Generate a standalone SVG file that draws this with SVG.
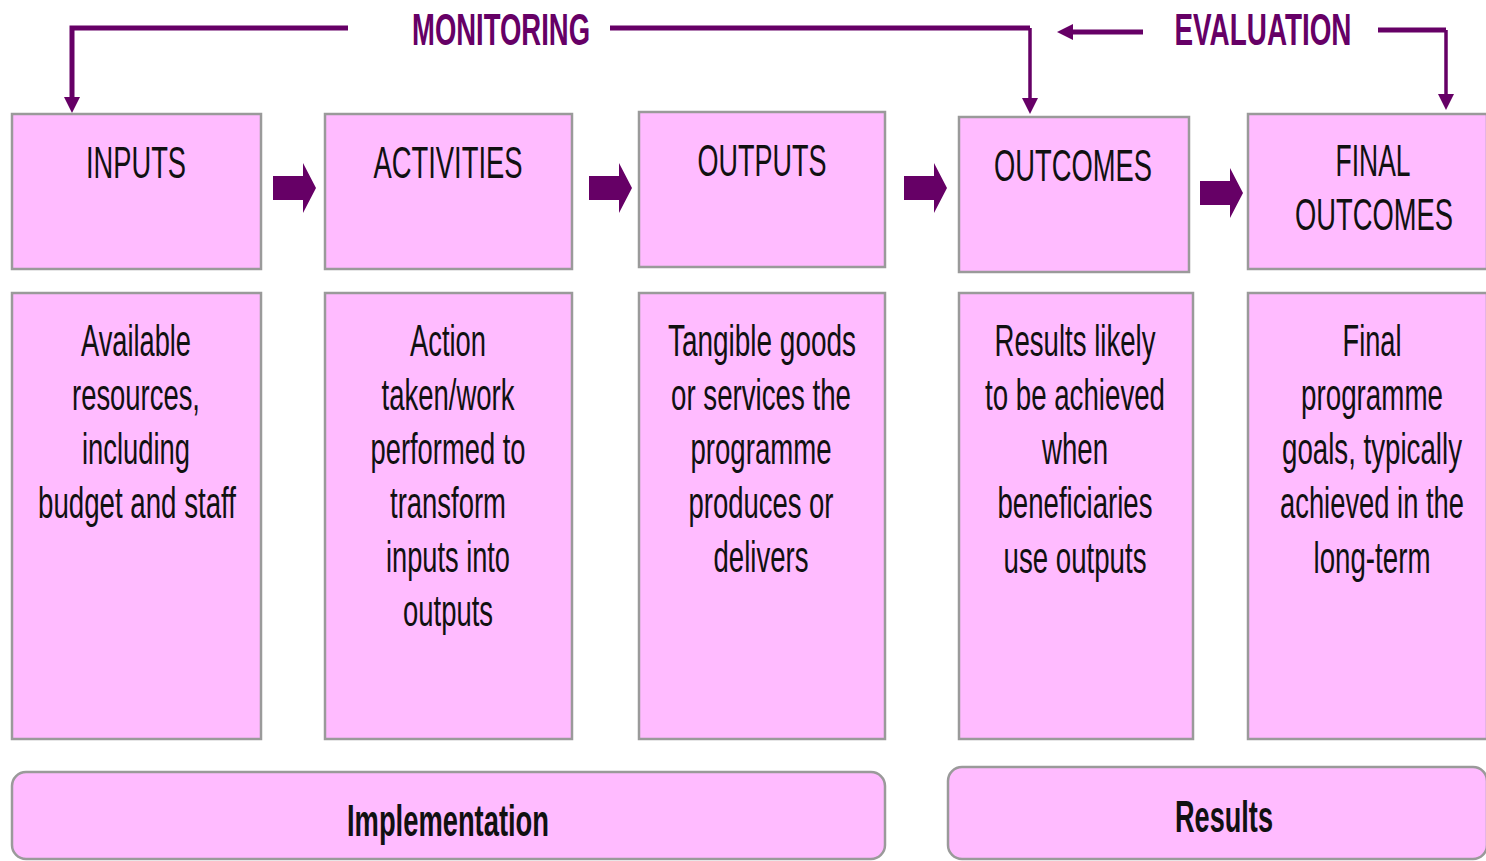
<svg xmlns="http://www.w3.org/2000/svg" xmlns:xlink="http://www.w3.org/1999/xlink" width="1486" height="861" viewBox="0 0 1486 861">
<style>
.box{fill:#ffbbff;stroke:#9a9a9a;stroke-width:2.5}
.t{font-family:"Liberation Sans",Arial,sans-serif;font-size:45px;fill:#111;text-anchor:middle}
.b{font-weight:bold}
.p{fill:#660066}
.ln{fill:none;stroke:#660066;stroke-width:5}
.ln2{fill:none;stroke:#660066;stroke-width:3.5}
</style>
<defs>
<marker id="ah" viewBox="0 0 16 16" refX="4" refY="8" markerWidth="16" markerHeight="16" markerUnits="userSpaceOnUse" orient="auto">
<path d="M0,0 L16,8 L0,16 Z" fill="#660066"/>
</marker>
<path id="blk" d="M0,-12 H30 V-25 L43,0 L30,25 V12 H0 Z" fill="#660066"/>
</defs>
<rect width="1486" height="861" fill="#fff"/>

<g id="connectors">
<path class="ln" d="M348,28 H72 V101" marker-end="url(#ah)"/>
<path class="ln" d="M610,28 H1030"/>
<path class="ln2" d="M1030,28 V102" marker-end="url(#ah)"/>
<path class="ln" d="M1143,32 H1069" marker-end="url(#ah)"/>
<path class="ln" d="M1378,30 H1446"/>
<path class="ln2" d="M1446,30 V98" marker-end="url(#ah)"/>
<use xlink:href="#blk" href="#blk" x="273" y="188"/>
<use xlink:href="#blk" href="#blk" x="589" y="188"/>
<use xlink:href="#blk" href="#blk" x="904" y="188"/>
<use xlink:href="#blk" href="#blk" x="1200" y="193"/>
</g>

<g id="labels">
<text class="t b p" x="501" y="45" textLength="178" lengthAdjust="spacingAndGlyphs">MONITORING</text>
<text class="t b p" x="1263" y="45" textLength="177" lengthAdjust="spacingAndGlyphs">EVALUATION</text>
</g>

<g id="inputs">
<rect class="box" x="12" y="114" width="249" height="155"/>
<text class="t" x="136" y="178" textLength="100" lengthAdjust="spacingAndGlyphs">INPUTS</text>
</g>
<g id="activities">
<rect class="box" x="325" y="114" width="247" height="155"/>
<text class="t" x="448" y="178" textLength="149" lengthAdjust="spacingAndGlyphs">ACTIVITIES</text>
</g>
<g id="outputs">
<rect class="box" x="639" y="112" width="246" height="155"/>
<text class="t" x="762" y="176" textLength="129" lengthAdjust="spacingAndGlyphs">OUTPUTS</text>
</g>
<g id="outcomes">
<rect class="box" x="959" y="117" width="230" height="155"/>
<text class="t" x="1073" y="181" textLength="158" lengthAdjust="spacingAndGlyphs">OUTCOMES</text>
</g>
<g id="final-outcomes">
<rect class="box" x="1248" y="114" width="239" height="155"/>
<text class="t" x="1373" y="176" textLength="75" lengthAdjust="spacingAndGlyphs">FINAL</text>
<text class="t" x="1374" y="230" textLength="158" lengthAdjust="spacingAndGlyphs">OUTCOMES</text>
</g>

<g id="inputs-desc">
<rect class="box" x="12" y="293" width="249" height="446"/>
<text class="t" x="136" y="356" textLength="110" lengthAdjust="spacingAndGlyphs">Available</text>
<text class="t" x="136" y="410" textLength="128" lengthAdjust="spacingAndGlyphs">resources,</text>
<text class="t" x="136" y="464" textLength="108" lengthAdjust="spacingAndGlyphs">including</text>
<text class="t" x="137" y="518" textLength="198" lengthAdjust="spacingAndGlyphs">budget and staff</text>
</g>
<g id="activities-desc">
<rect class="box" x="325" y="293" width="247" height="446"/>
<text class="t" x="448" y="356" textLength="76" lengthAdjust="spacingAndGlyphs">Action</text>
<text class="t" x="448" y="410" textLength="133" lengthAdjust="spacingAndGlyphs">taken/work</text>
<text class="t" x="448" y="464" textLength="155" lengthAdjust="spacingAndGlyphs">performed to</text>
<text class="t" x="448" y="518" textLength="116" lengthAdjust="spacingAndGlyphs">transform</text>
<text class="t" x="448" y="572" textLength="124" lengthAdjust="spacingAndGlyphs">inputs into</text>
<text class="t" x="448" y="626" textLength="90" lengthAdjust="spacingAndGlyphs">outputs</text>
</g>
<g id="outputs-desc">
<rect class="box" x="639" y="293" width="246" height="446"/>
<text class="t" x="762" y="356" textLength="188" lengthAdjust="spacingAndGlyphs">Tangible goods</text>
<text class="t" x="761" y="410" textLength="180" lengthAdjust="spacingAndGlyphs">or services the</text>
<text class="t" x="761" y="464" textLength="141" lengthAdjust="spacingAndGlyphs">programme</text>
<text class="t" x="761" y="518" textLength="145" lengthAdjust="spacingAndGlyphs">produces or</text>
<text class="t" x="761" y="572" textLength="95" lengthAdjust="spacingAndGlyphs">delivers</text>
</g>
<g id="outcomes-desc">
<rect class="box" x="959" y="293" width="234" height="446"/>
<text class="t" x="1075" y="356" textLength="161" lengthAdjust="spacingAndGlyphs">Results likely</text>
<text class="t" x="1075" y="410" textLength="180" lengthAdjust="spacingAndGlyphs">to be achieved</text>
<text class="t" x="1075" y="464" textLength="66" lengthAdjust="spacingAndGlyphs">when</text>
<text class="t" x="1075" y="518" textLength="155" lengthAdjust="spacingAndGlyphs">beneficiaries</text>
<text class="t" x="1075" y="573" textLength="143" lengthAdjust="spacingAndGlyphs">use outputs</text>
</g>
<g id="final-outcomes-desc">
<rect class="box" x="1248" y="293" width="239" height="446"/>
<text class="t" x="1372" y="356" textLength="59" lengthAdjust="spacingAndGlyphs">Final</text>
<text class="t" x="1372" y="410" textLength="142" lengthAdjust="spacingAndGlyphs">programme</text>
<text class="t" x="1372" y="464" textLength="180" lengthAdjust="spacingAndGlyphs">goals, typically</text>
<text class="t" x="1372" y="518" textLength="184" lengthAdjust="spacingAndGlyphs">achieved in the</text>
<text class="t" x="1372" y="573" textLength="117" lengthAdjust="spacingAndGlyphs">long-term</text>
</g>

<g id="implementation">
<rect class="box" x="12" y="772" width="873" height="87" rx="14"/>
<text class="t b" x="448" y="836" textLength="202" lengthAdjust="spacingAndGlyphs">Implementation</text>
</g>
<g id="results">
<rect class="box" x="948" y="767" width="539" height="92" rx="14"/>
<text class="t b" x="1224" y="832" textLength="98" lengthAdjust="spacingAndGlyphs">Results</text>
</g>
</svg>
